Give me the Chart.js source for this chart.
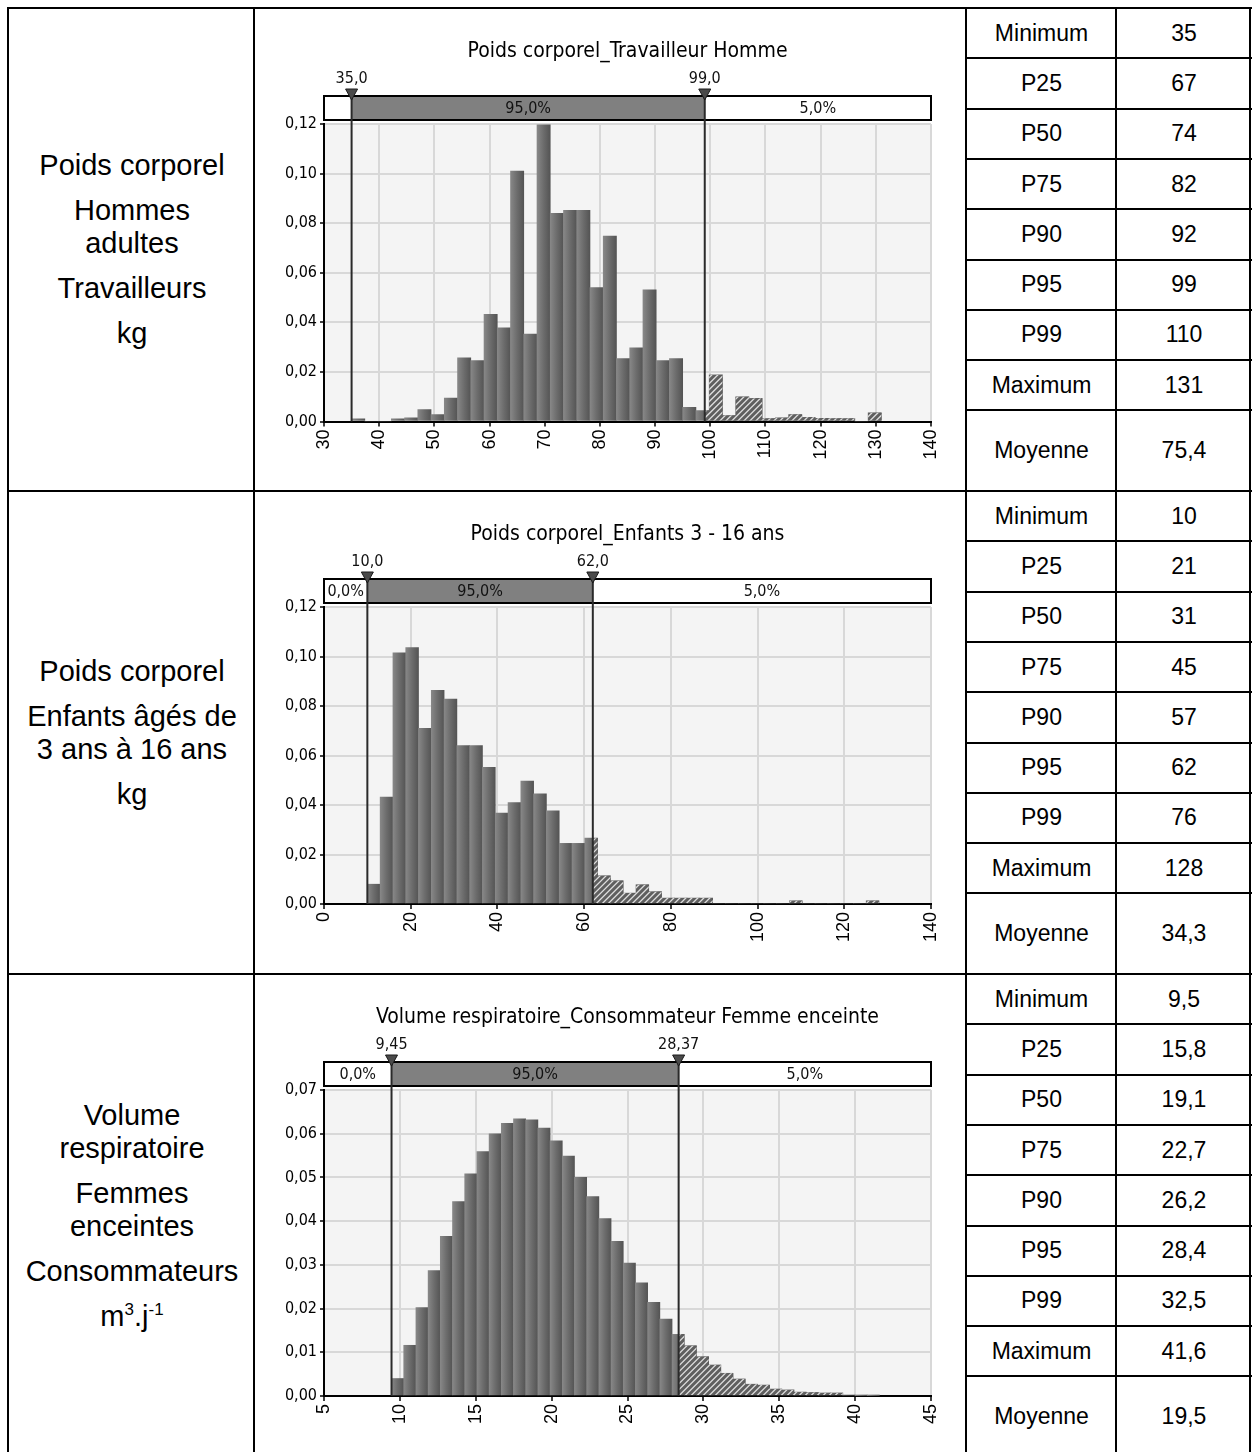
<!DOCTYPE html>
<html><head><meta charset="utf-8">
<script src="https://cdn.jsdelivr.net/npm/chart.js@4.4.0/dist/chart.umd.min.js"></script>
<style>
body{margin:0;background:#fff;width:1253px;height:1452px;overflow:hidden;position:relative;font-family:"Liberation Sans",Arial,sans-serif;color:#000}
.h{position:absolute;height:2px;background:#000}
.v{position:absolute;width:2px;background:#000}
.cell{position:absolute;display:flex;align-items:center;justify-content:center;font-size:23px}
.left{position:absolute;left:10px;width:244px;display:flex;flex-direction:column;justify-content:center;align-items:center;text-align:center;font-size:29px}
.left p{margin:0;line-height:33px}
.left p+p{margin-top:12px}
sup{font-size:17px;vertical-align:super;line-height:0}
canvas{position:absolute;left:256px}
</style></head><body>
<script>
// ---------- DATA ----------
const statLabels = ["Minimum","P25","P50","P75","P90","P95","P99","Maximum","Moyenne"];
const stats1 = ["35","67","74","82","92","99","110","131","75,4"];
const stats2 = ["10","21","31","45","57","62","76","128","34,3"];
const stats3 = ["9,5","15,8","19,1","22,7","26,2","28,4","32,5","41,6","19,5"];

const rowTitles1 = ["Poids corporel","Hommes<br>adultes","Travailleurs","kg"];
const rowTitles2 = ["Poids corporel","Enfants âgés de<br>3 ans à 16 ans","kg"];
const rowTitles3 = ["Volume<br>respiratoire","Femmes<br>enceintes","Consommateurs","m<sup>3</sup>.j<sup>-1</sup>"];

const chartTitle1 = "Poids corporel_Travailleur Homme";
const chartTitle2 = "Poids corporel_Enfants 3 - 16 ans";
const chartTitle3 = "Volume respiratoire_Consommateur Femme enceinte";

// histogram bins: first bin start, bin width, densities
const hist1Start = 35, hist1Width = 2.4;
const hist1Values = [0.0011,0,0,0.0011,0.0015,0.0048,0.0028,0.0094,0.0257,0.0246,
  0.0432,0.0378,0.1010,0.0353,0.1197,0.0840,0.0852,0.0852,0.0540,0.0748,
  0.0254,0.0297,0.0531,0.0246,0.0254,0.0057,0.0044,0.0188,0.0024,0.0100,
  0.0093,0.0012,0.0015,0.0028,0.0017,0.0013,0.0012,0.0012,0,0.0035];
const hist2Start = 10, hist2Width = 2.95;
const hist2Values = [0.0080,0.0432,0.1015,0.1036,0.0710,0.0863,0.0828,0.0640,0.0640,0.0552,
  0.0367,0.0410,0.0497,0.0445,0.0376,0.0245,0.0245,0.0266,0.0114,0.0094,
  0.0044,0.0078,0.0050,0.0024,0.0024,0.0024,0.0024,0,0,0,
  0,0,0,0.0013,0,0,0,0,0,0.0013];
const hist3Start = 9.45, hist3Width = 0.80375;
const hist3Values = [0.0040,0.0116,0.0202,0.0287,0.0365,0.0445,0.0508,0.0559,0.0600,0.0624,
  0.0634,0.0632,0.0613,0.0584,0.0549,0.0500,0.0456,0.0406,0.0354,0.0304,
  0.0259,0.0214,0.0176,0.0141,0.0115,0.0090,0.0071,0.0052,0.0039,0.0027,
  0.0025,0.0016,0.0014,0.0009,0.0008,0.0007,0.0007,0.0002,0.0001,0.0001];

const markers1 = [35.0, 99.0], markerLabels1 = ["35,0","99,0"], bandLabels1 = ["","95,0%","5,0%"];
const markers2 = [10.0, 62.0], markerLabels2 = ["10,0","62,0"], bandLabels2 = ["0,0%","95,0%","5,0%"];
const markers3 = [9.45, 28.37], markerLabels3 = ["9,45","28,37"], bandLabels3 = ["0,0%","95,0%","5,0%"];

const xAxis1 = [30, 140, 10], yAxis1 = [0, 0.12, 0.02];
const xAxis2 = [0, 140, 20],  yAxis2 = [0, 0.12, 0.02];
const xAxis3 = [5, 45, 5],    yAxis3 = [0, 0.07, 0.01];

// ---------- TABLE ----------
const secTops = [8, 491, 974];
const rowH = 50.3, secH = 483;
const W = document.body;
function add(cls, css, html){ const d=document.createElement('div'); d.className=cls; Object.assign(d.style, css); if(html!==undefined) d.innerHTML=html; W.appendChild(d); return d; }
const statsAll = [stats1, stats2, stats3];
const titlesAll = [rowTitles1, rowTitles2, rowTitles3];
secTops.forEach((top, s) => {
  add('left', {top: top+'px', height: secH+'px'}, titlesAll[s].map(t=>'<p>'+t+'</p>').join(''));
  for (let i=0;i<9;i++){
    const y0 = top + i*rowH, y1 = i<8 ? top+(i+1)*rowH : top+secH;
    add('cell', {left:'967px', width:'149px', top:y0+'px', height:(y1-y0)+'px'}, statLabels[i]);
    add('cell', {left:'1117px', width:'134px', top:y0+'px', height:(y1-y0)+'px'}, statsAll[s][i]);
    if (i>0) add('h', {left:'966px', width:'286px', top:(y0-1)+'px'});
  }
  add('h', {left:'7px', width:'1245px', top:(top-1)+'px'});
});
add('h', {left:'7px', width:'1245px', top:(8+3*secH-1)+'px'});
[8, 254, 966, 1116, 1250].forEach(x => add('v', {left:(x-1)+'px', top:'7px', height:'1460px'}));

// ---------- CHARTS ----------
const CF = "'DejaVu Sans Condensed','Liberation Sans Narrow','DejaVu Sans',sans-serif";
const overlay = {
  id: 'overlay',
  beforeDraw(chart) {
    const {ctx, chartArea: a} = chart;
    ctx.save(); ctx.fillStyle = '#f4f4f4';
    ctx.fillRect(a.left, a.top, a.right-a.left, a.bottom-a.top); ctx.restore();
  },
  afterDatasetsDraw(chart, args, o) {
    const {ctx, chartArea: a} = chart;
    const sx = chart.scales.x;
    const meta = chart.getDatasetMeta(0);
    const m0 = sx.getPixelForValue(o.markers[0]), m1 = sx.getPixelForValue(o.markers[1]);
    // hatched tail
    ctx.save();
    ctx.beginPath();
    let any = false;
    meta.data.forEach(el => {
      const p = el.getProps(['x','y','base','width'], true);
      const l = p.x - p.width/2, r = p.x + p.width/2;
      if (r <= m1 || p.base - p.y < 0.3) return;
      const L = Math.max(l, m1);
      ctx.rect(L, p.y, r-L, p.base-p.y); any = true;
    });
    if (any) {
      ctx.clip();
      ctx.fillStyle = '#5f5f5f';
      ctx.fillRect(m1, a.top, a.right-m1, a.bottom-a.top);
      ctx.strokeStyle = '#dedede'; ctx.lineWidth = 1.3;
      ctx.beginPath();
      const hgt = a.bottom - a.top;
      for (let s = m1 - hgt; s < a.right; s += 6) { ctx.moveTo(s, a.bottom); ctx.lineTo(s+hgt, a.top); }
      ctx.stroke();
    }
    ctx.restore();
    // band
    const bt = o.bandTop, bb = o.bandTop + 24;
    ctx.save();
    ctx.fillStyle = '#fff'; ctx.fillRect(a.left, bt, a.right-a.left, bb-bt);
    ctx.fillStyle = '#808080'; ctx.fillRect(m0, bt, m1-m0, bb-bt);
    ctx.strokeStyle = '#000'; ctx.lineWidth = 2;
    ctx.strokeRect(a.left, bt, a.right-a.left, bb-bt);
    ctx.font = "16px " + CF; ctx.textAlign = 'center'; ctx.textBaseline = 'middle'; ctx.fillStyle = '#111';
    const segs = [[a.left, m0], [m0, m1], [m1, a.right]];
    segs.forEach((sg, i) => {
      const t = o.bandLabels[i]; if (!t) return;
      if (ctx.measureText(t).width + 4 > sg[1]-sg[0]) return;
      ctx.fillText(t, (sg[0]+sg[1])/2, (bt+bb)/2 + 1);
    });
    // marker lines + triangles + labels
    [m0, m1].forEach((m, i) => {
      ctx.strokeStyle = '#2a2a2a'; ctx.lineWidth = 2;
      ctx.beginPath(); ctx.moveTo(m, bt); ctx.lineTo(m, a.bottom); ctx.stroke();
      ctx.fillStyle = '#4a4a4a'; ctx.strokeStyle = '#1a1a1a'; ctx.lineWidth = 1;
      ctx.beginPath(); ctx.moveTo(m-6, bt-7); ctx.lineTo(m+6, bt-7); ctx.lineTo(m, bt+4); ctx.closePath(); ctx.fill(); ctx.stroke();
      ctx.fillStyle = '#111'; ctx.font = "16px " + CF; ctx.textBaseline = 'middle';
      ctx.fillText(o.markerLabels[i], m, bt-17);
    });
    // title
    ctx.font = "21px " + CF; ctx.fillStyle = '#000'; ctx.textBaseline = 'middle';
    ctx.fillText(o.title, (a.left+a.right)/2, bt-44);
    ctx.restore();
  }
};

function makeChart(top, plotBottom, start, width, values, xa, ya, markers, markerLabels, bandLabels, title) {
  const H = 470, Wd = 708;
  const c = document.createElement('canvas');
  c.width = Wd; c.height = H; c.style.top = top + 'px';
  W.appendChild(c);
  const pts = values.map((v, i) => ({x: start + width*(i+0.5), y: v}));
  new Chart(c, {
    type: 'bar',
    data: { datasets: [{
      data: pts,
      barPercentage: 1, categoryPercentage: 1,
      borderWidth: 0,
      backgroundColor: (cx) => {
        const ch = cx.chart, sx = ch.scales && ch.scales.x;
        if (!sx || cx.type !== 'data' || !cx.raw) return '#686868';
        const l = sx.getPixelForValue(cx.raw.x - width/2), r = sx.getPixelForValue(cx.raw.x + width/2);
        if (!isFinite(l) || !isFinite(r) || r - l < 0.5) return '#686868';
        const g = ch.ctx.createLinearGradient(l, 0, r, 0);
        g.addColorStop(0, '#878787'); g.addColorStop(0.5, '#6c6c6c'); g.addColorStop(1, '#545454');
        return g;
      }
    }]},
    plugins: [overlay],
    options: {
      responsive: false, animation: false, devicePixelRatio: 1,
      layout: { padding: { top: 114, left: 0, right: 33, bottom: 0 } },
      plugins: {
        legend: { display: false }, tooltip: { enabled: false },
        overlay: { markers, markerLabels, bandLabels, title, bandTop: 86 }
      },
      scales: {
        x: {
          type: 'linear', min: xa[0], max: xa[1], offset: false,
          afterFit: (s) => { s.height = H - plotBottom; },
          ticks: { stepSize: xa[2], maxRotation: 90, minRotation: 90, autoSkip: false, padding: 3,
                   color: '#000', font: { family: "'Liberation Sans',Arial,sans-serif", size: 18 },
                   callback: (v) => String(v) },
          grid: { offset: false, color: '#d8d8d8', lineWidth: 2, tickLength: 5, tickColor: '#000', tickWidth: 1.5, drawOnChartArea: true },
          border: { display: true, color: '#000', width: 2 }
        },
        y: {
          min: ya[0], max: ya[1],
          afterFit: (s) => { s.width = 68; },
          ticks: { stepSize: ya[2], padding: 3, color: '#000', font: { family: CF, size: 16 },
                   callback: (v) => Number(v).toFixed(2).replace('.', ',') },
          grid: { color: '#d8d8d8', lineWidth: 2, tickLength: 4, tickColor: '#000', tickWidth: 1.5 },
          border: { display: true, color: '#000', width: 2 }
        }
      }
    }
  });
}
makeChart(10, 411.5, hist1Start, hist1Width, hist1Values, xAxis1, yAxis1, markers1, markerLabels1, bandLabels1, chartTitle1);
makeChart(493, 411, hist2Start, hist2Width, hist2Values, xAxis2, yAxis2, markers2, markerLabels2, bandLabels2, chartTitle2);
makeChart(976, 420, hist3Start, hist3Width, hist3Values, xAxis3, yAxis3, markers3, markerLabels3, bandLabels3, chartTitle3);
</script>
</body></html>
